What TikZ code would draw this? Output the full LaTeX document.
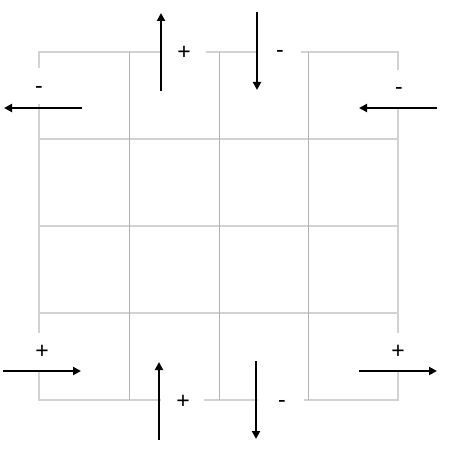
\documentclass[tikz,border=0pt]{standalone}
\usepackage{fontspec}
\setmainfont{Liberation Sans}
\usetikzlibrary{arrows.meta}
\begin{document}
\begin{tikzpicture}[x=1pt,y=-1pt,
  hline/.style={draw=gray!35,line width=1.4pt,line cap=rect},
  vline/.style={draw=gray!60,line width=0.8pt},
  flow/.style={line width=2pt,-{Triangle[length=8pt,width=8pt]}},
  sign/.style={inner sep=0pt,anchor=base,font=\fontsize{23}{26}\selectfont}]
\useasboundingbox (0,0) rectangle (450,457);
% grid
\foreach \y in {139,226,313} \draw[hline] (39,\y) -- (398,\y);
\draw[hline] (39,52) -- (161,52) (207,52) -- (257,52) (302,52) -- (398,52);
\draw[hline] (39,400) -- (160,400) (205,400) -- (257,400) (305,400) -- (398,400);
\draw[hline] (39,52) -- (39,67) (39,105) -- (39,332) (39,371) -- (39,400);
\draw[hline] (398,52) -- (398,69) (398,109) -- (398,332) (398,371) -- (398,400);
\foreach \x in {129,219,308} \draw[vline] (\x,52) -- (\x,400);
% arrow end points
\coordinate (a1s) at (161,91);  \coordinate (a1e) at (161,13);
\coordinate (a2s) at (257,12);  \coordinate (a2e) at (257,90);
\coordinate (a3s) at (82,108);  \coordinate (a3e) at (4,108);
\coordinate (a4s) at (437,108); \coordinate (a4e) at (359,108);
\coordinate (a5s) at (3,371);   \coordinate (a5e) at (81,371);
\coordinate (a6s) at (159,440); \coordinate (a6e) at (159,362);
\coordinate (a7s) at (256,361); \coordinate (a7e) at (256,439);
\coordinate (a8s) at (359,371); \coordinate (a8e) at (437,371);
\foreach \i in {1,...,8} \draw[flow] (a\i s) -- (a\i e);
% signs
\node[sign] (s1) at (184,59.8) {+};
\node[sign] (s2) at (280,57.5) {-};
\node[sign] (s3) at (39,93.5) {-};
\node[sign] (s4) at (399,94.9) {-};
\node[sign] (s5) at (42,358.8) {+};
\node[sign] (s6) at (183,408.8) {+};
\node[sign] (s7) at (282,407.2) {-};
\node[sign] (s8) at (398,358.8) {+};
\end{tikzpicture}
\end{document}
